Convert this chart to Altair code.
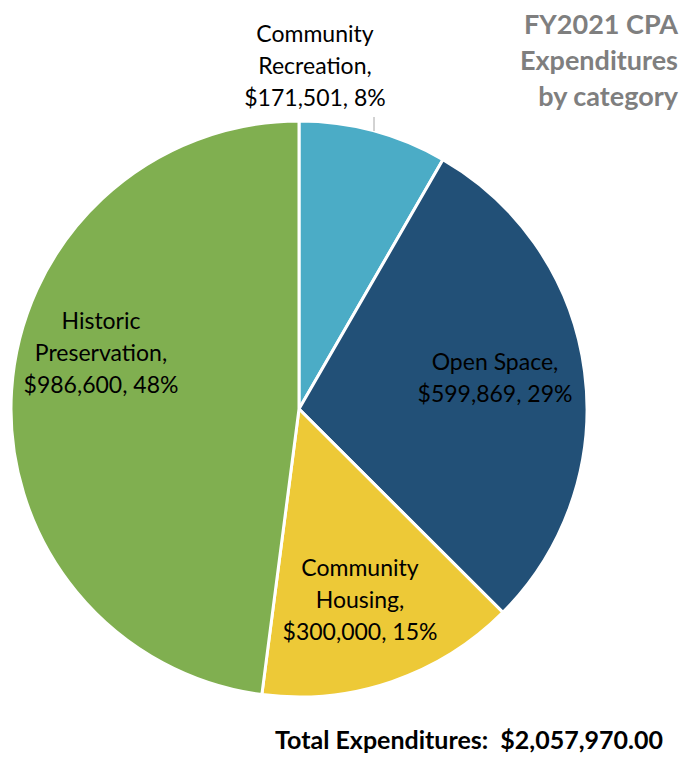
import altair as alt
import pandas as pd

# ---- data ----
categories = ["Community Recreation", "Open Space", "Community Housing", "Historic Preservation"]
label_names = [["Community", "Recreation,"], ["Open Space,"], ["Community", "Housing,"], ["Historic", "Preservation,"]]
values = [171501, 599869, 300000, 986600]
colors = ["#4BACC6", "#225077", "#EDC937", "#80AF50"]
title_lines = ["FY2021 CPA", "Expenditures", "by category"]
total_text = "Total Expenditures:\u00a0\u00a0$2,057,970.00"

total = sum(values)
df = pd.DataFrame({
    "category": categories,
    "value": values,
    "order": list(range(len(categories))),
})

W, H = 674, 745
CX, CY, R = 291, 401, 288
FONT = "Lato"

pie = alt.Chart(df).mark_arc(outerRadius=R, stroke="white", strokeWidth=3).encode(
    theta=alt.Theta("value:Q", stack=True),
    order=alt.Order("order:Q"),
    color=alt.Color("category:N", scale=alt.Scale(domain=categories, range=colors), legend=None),
    x=alt.value(CX),
    y=alt.value(CY),
)

# label layout positions (centre x, first-line y) – layout only
label_pos = [(307, 27), (487, 355), (352, 561), (93, 314)]

layers = [pie]
for names, v, (lx, ly) in zip(label_names, values, label_pos):
    pct = round(100 * v / total)
    lines = list(names) + [f"${v:,}, {pct}%"]
    layers.append(
        alt.Chart(df.head(1)).mark_text(
            font=FONT, fontSize=23, color="#000000", align="center", baseline="middle", lineHeight=32
        ).encode(x=alt.value(lx), y=alt.value(ly), text=alt.value(lines))
    )

leader = alt.Chart(df.head(1)).mark_rule(color="#A6A6A6", strokeWidth=1).encode(
    x=alt.value(366), y=alt.value(109), y2=alt.value(123)
)
layers.append(leader)

for i, line in enumerate(title_lines):
    layers.append(
        alt.Chart(df.head(1)).mark_text(
            font=FONT, fontSize=27, fontWeight="bold", color="#7F7F7F", align="right", baseline="middle"
        ).encode(x=alt.value(670), y=alt.value(18 + 36 * i), text=alt.value(line))
    )

tot = alt.Chart(df.head(1)).mark_text(
    font=FONT, fontSize=25, fontWeight="bold", color="#000000", align="right", baseline="middle"
).encode(x=alt.value(655), y=alt.value(733), text=alt.value(total_text))
layers.append(tot)

chart = alt.layer(*layers).properties(
    width=W, height=H, padding=0, autosize="none"
).configure_view(stroke=None)

chart.save("out.html", embed_options={"renderer": "svg", "actions": False})
